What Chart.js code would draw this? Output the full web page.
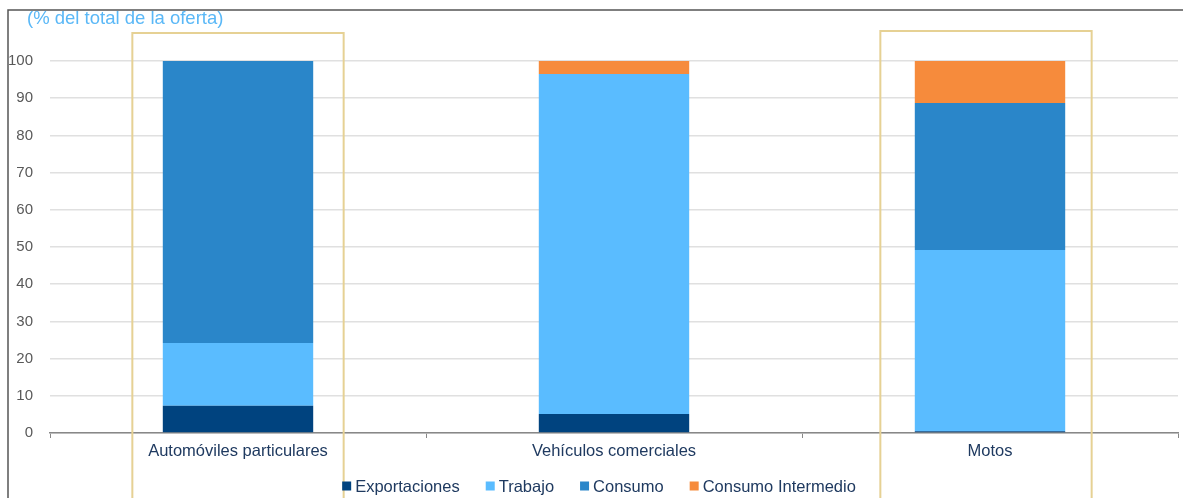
<!DOCTYPE html>
<html>
<head>
<meta charset="utf-8">
<script src="https://cdn.jsdelivr.net/npm/chart.js@4/dist/chart.umd.min.js"></script>
<style>
  html, body { margin: 0; padding: 0; background: #fff; }
  #wrap { width: 1183px; height: 498px; position: relative; }
</style>
</head>
<body>
<div id="wrap"><canvas id="myChart"></canvas></div>
<script>
const categories = ["Automóviles particulares", "Vehículos comerciales", "Motos"];
const exportaciones = [7.3, 5.1, 0.5];
const trabajo = [16.9, 91.4, 48.7];
const consumo = [75.8, 0, 39.5];
const consumoIntermedio = [0, 3.5, 11.3];
const yTicks = [0, 10, 20, 30, 40, 50, 60, 70, 80, 90, 100];
const subtitle = "(% del total de la oferta)";

const FONT = "'Liberation Sans', Arial, sans-serif";
Chart.defaults.font.family = FONT;

// gold frames around some categories (index, top y, x shift)
const goldBoxes = [
  { index: 0, top: 33, shift: 0 },
  { index: 2, top: 31, shift: -4 },
];

// page frame, subtitle, gold boxes and the legend row
const extras = {
  id: "extras",
  beforeDraw(chart) {
    const c = chart.ctx;
    c.save();
    c.strokeStyle = "#555";
    c.lineWidth = 1.5;
    c.beginPath();
    c.moveTo(8, 498);
    c.lineTo(8, 10);
    c.lineTo(1183, 10);
    c.stroke();

    c.fillStyle = "#5ab8f7";
    c.font = "18.5px " + FONT;
    c.textBaseline = "middle";
    c.fillText(subtitle, 27, 19);
    c.restore();
  },
  afterDraw(chart) {
    const c = chart.ctx;
    const x = chart.scales.x;
    const step = x.width / categories.length;
    const half = step * 0.281;
    c.save();
    c.strokeStyle = "#e6d194";
    c.lineWidth = 2;
    goldBoxes.forEach(function (b) {
      const cx = x.getPixelForValue(b.index) + b.shift;
      c.beginPath();
      c.moveTo(cx - half, 500);
      c.lineTo(cx - half, b.top);
      c.lineTo(cx + half, b.top);
      c.lineTo(cx + half, 500);
      c.stroke();
    });

    // legend
    const ds = chart.data.datasets;
    c.font = "16.5px " + FONT;
    c.textBaseline = "middle";
    const box = 9, gap = 4, spacing = 26;
    const widths = ds.map(d => box + gap + c.measureText(d.label).width);
    const total = widths.reduce((a, b) => a + b, 0) + spacing * (ds.length - 1);
    let lx = 599 - total / 2;
    const ly = 486;
    ds.forEach(function (d, i) {
      c.fillStyle = d.backgroundColor;
      c.fillRect(lx, ly - box / 2, box, box);
      c.fillStyle = "#1f3a60";
      c.fillText(d.label, lx + box + gap, ly + 1);
      lx += widths[i] + spacing;
    });
    c.restore();
  }
};

const ctx = document.getElementById("myChart");

const myChart = new Chart(ctx, {
  type: "bar",
  data: {
    labels: categories,
    datasets: [
      { label: "Exportaciones", data: exportaciones, backgroundColor: "#00437f" },
      { label: "Trabajo", data: trabajo, backgroundColor: "#5abcff" },
      { label: "Consumo", data: consumo, backgroundColor: "#2a86c9" },
      { label: "Consumo Intermedio", data: consumoIntermedio, backgroundColor: "#f68b3c" },
    ],
  },
  options: {
    responsive: true,
    maintainAspectRatio: false,
    animation: false,
    categoryPercentage: 0.4,
    barPercentage: 1,
    layout: {
      padding: { left: 0, right: 5, top: 61, bottom: 36 },
    },
    plugins: {
      legend: { display: false },
      tooltip: { enabled: false },
    },
    scales: {
      x: {
        stacked: true,
        grid: { display: true, drawOnChartArea: false, offset: true, tickLength: 5, color: "#888" },
        border: { color: "#888", width: 1.5 },
        ticks: { color: "#1f3a60", font: { size: 16.5 }, padding: 4 },
        afterFit(scale) { scale.height = 29; },
      },
      y: {
        stacked: true,
        min: 0,
        max: 100,
        afterBuildTicks(scale) { scale.ticks = yTicks.map(v => ({ value: v })); },
        grid: { color: "#e0e0e0", lineWidth: 1.5, drawTicks: false },
        border: { display: false },
        ticks: { color: "#595959", font: { size: 15 }, padding: 17 },
        afterFit(scale) { scale.width = 50; },
      },
    },
  },
  plugins: [extras],
});
</script>
</body>
</html>
